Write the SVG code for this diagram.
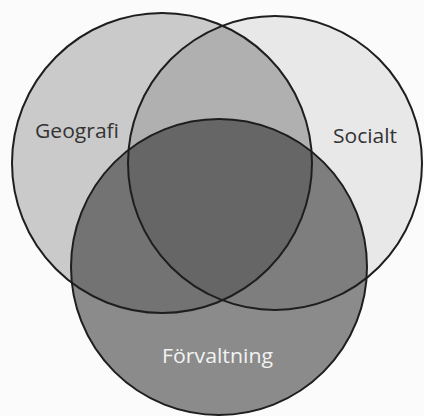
<svg xmlns="http://www.w3.org/2000/svg" width="424" height="416" viewBox="0 0 424 416">
<style>
.out{fill:none;stroke:#1e1e1e;stroke-width:2}
.lbl{font-family:"Open Sans","Liberation Sans",sans-serif;font-size:20px}
</style>
<defs>
<clipPath id="cG"><circle cx="162" cy="163" r="150"/></clipPath>
<clipPath id="cS"><circle cx="275" cy="163" r="147"/></clipPath>
<clipPath id="cF"><circle cx="219" cy="267" r="148"/></clipPath>
</defs>
<rect width="424" height="416" fill="#fbfbfb"/>
<g id="fills">
<circle cx="162" cy="163" r="150" fill="#cacaca"/>
<circle cx="275" cy="163" r="147" fill="#e8e8e8"/>
<circle cx="219" cy="267" r="148" fill="#8b8b8b"/>
<circle cx="275" cy="163" r="147" fill="#b0b0b0" clip-path="url(#cG)"/>
<g clip-path="url(#cF)">
<circle cx="162" cy="163" r="150" fill="#737373"/>
<circle cx="275" cy="163" r="147" fill="#7e7e7e"/>
<g clip-path="url(#cG)"><circle cx="275" cy="163" r="147" fill="#666666"/></g>
</g>
</g>
<g id="geografi">
<circle class="out" cx="162" cy="163" r="150"/>
<text class="lbl" x="35" y="138" fill="#333" textLength="84" lengthAdjust="spacingAndGlyphs">Geografi</text>
</g>
<g id="socialt">
<circle class="out" cx="275" cy="163" r="147"/>
<text class="lbl" x="333" y="143" fill="#333" textLength="64" lengthAdjust="spacingAndGlyphs">Socialt</text>
</g>
<g id="forvaltning">
<circle class="out" cx="219" cy="267" r="148"/>
<text class="lbl" x="162" y="363" fill="#f2f2f2" textLength="111" lengthAdjust="spacingAndGlyphs">Förvaltning</text>
</g>
<g id="connectors"/>
</svg>
